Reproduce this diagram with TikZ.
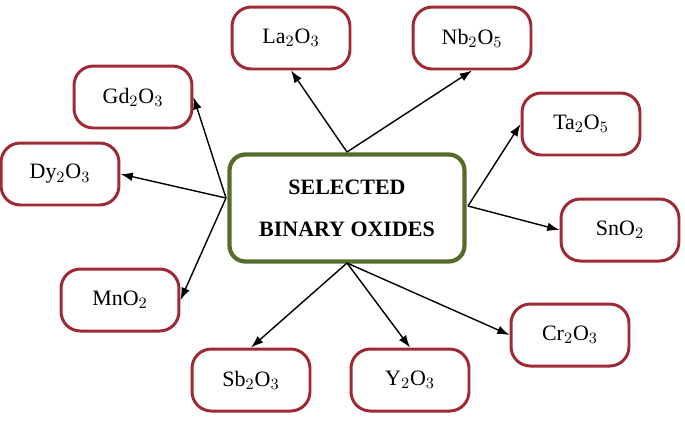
\documentclass[tikz,border=0pt]{standalone}
\usepackage{fontspec}
\setmainfont{Liberation Serif}
\usetikzlibrary{arrows.meta}
\definecolor{oxred}{RGB}{160,42,52}
\definecolor{oxgreen}{RGB}{88,108,42}

\begin{document}
\begin{tikzpicture}[x=0.02cm, y=-0.02cm,
oxide/.style={draw=oxred, line width=1.7pt, rounded corners=11pt, minimum width=2.36cm, minimum height=1.24cm, font=\fontsize{12.5}{14}\selectfont},
central/.style={draw=oxgreen, line width=2.4pt, rounded corners=9pt, minimum width=4.7cm, minimum height=2.14cm, align=center, font=\fontsize{12.5}{16}\selectfont\bfseries},
paths/.style={-{Latex[length=7pt,width=5pt]}, thick}
]
\useasboundingbox (0,0) rectangle (685,424);
%create nodes
\node[central] (sel) at (347,208) {SELECTED\\[8pt]BINARY OXIDES};

\node[oxide] (la) at (291,38) {La$_2$O$_3$};
\node[oxide] (nb) at (472,38) {Nb$_2$O$_5$};
\node[oxide] (gd) at (133,97) {Gd$_2$O$_3$};
\node[oxide] (ta) at (581,124) {Ta$_2$O$_5$};
\node[oxide] (dy) at (60,174) {Dy$_2$O$_3$};
\node[oxide] (sn) at (620,230) {SnO$_2$};
\node[oxide] (mn) at (120,300) {MnO$_2$};
\node[oxide] (cr) at (570,335) {Cr$_2$O$_3$};
\node[oxide] (sb) at (251,380) {Sb$_2$O$_3$};
\node[oxide] (y) at (410,380) {Y$_2$O$_3$};

\coordinate (top) at (347,152);
\coordinate (left) at (226,198);
\coordinate (right) at (468,206);
\coordinate (bottom) at (347,263);

%draw paths
\draw[paths] (top) -- (la.south);
\draw[paths] (top) -- (nb.south);
\draw[paths] (left) -- (gd.east);
\draw[paths] (left) -- (dy.east);
\draw[paths] (left) -- (mn.east);
\draw[paths] (right) -- (ta.west);
\draw[paths] (right) -- (sn.west);
\draw[paths] (bottom) -- (cr.west);
\draw[paths] (bottom) -- (sb.north);
\draw[paths] (bottom) -- (y.north);
\end{tikzpicture}
\end{document}
